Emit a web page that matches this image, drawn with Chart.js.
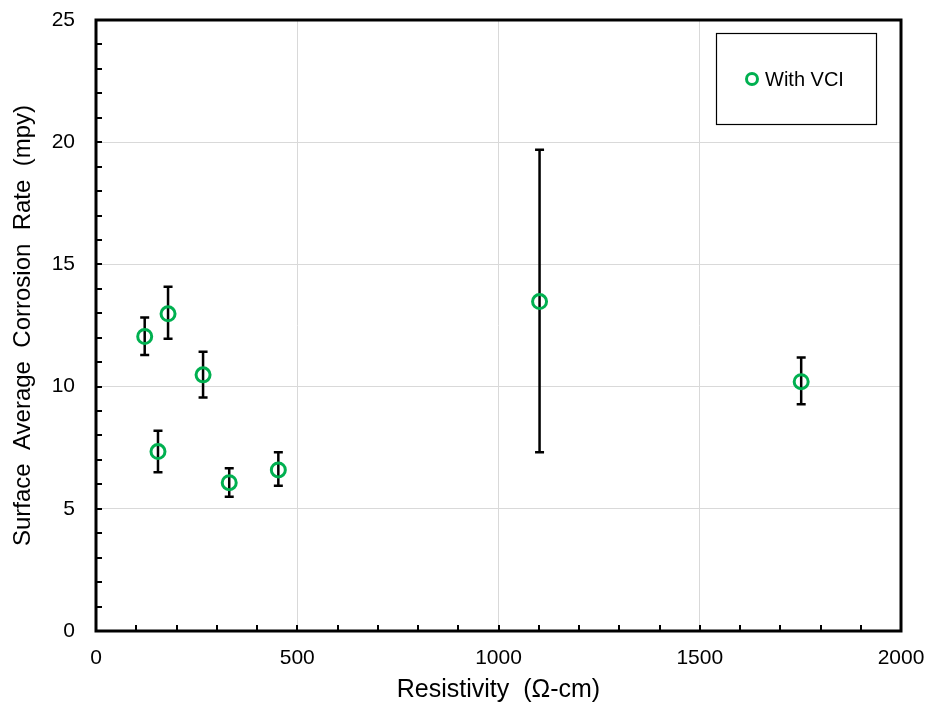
<!DOCTYPE html>
<html>
<head>
<meta charset="utf-8">
<script src="https://cdn.jsdelivr.net/npm/chart.js@4"></script>
<style>
  body { margin: 0; background: #fff; }
  #wrap { width: 928px; height: 707px; }
</style>
</head>
<body>
<div id="wrap"><canvas id="myChart" width="928" height="707"></canvas></div>
<script>
// data
var resistivity = [121, 154, 179, 266, 331, 453, 1102, 1752];
var corrosao = [12.05, 7.34, 12.98, 10.48, 6.07, 6.59, 13.48, 10.20];
var erro_cima = [12.83, 8.19, 14.09, 11.43, 6.66, 7.31, 19.69, 11.19];
var erro_baixo = [11.29, 6.50, 11.96, 9.55, 5.49, 5.94, 7.31, 9.28];
var legenda = 'With VCI';

var verde = '#00b050';
var fonte = '"Liberation Sans", Arial, sans-serif';

var pontos = resistivity.map(function (x, i) {
  return { x: x, y: corrosao[i] };
});

function sem_margem(s) {
  s.paddingTop = 0; s.paddingBottom = 0;
  s.paddingLeft = 0; s.paddingRight = 0;
}

// error bars, minor ticks, box and legend
var extras = {
  id: 'extras',
  beforeDatasetsDraw: function (chart) {
    var ctx = chart.ctx;
    var xs = chart.scales.x, ys = chart.scales.y;
    ctx.save();
    ctx.strokeStyle = '#000';
    ctx.lineWidth = 2.5;
    for (var i = 0; i < resistivity.length; i++) {
      var px = xs.getPixelForValue(resistivity[i]);
      var top = ys.getPixelForValue(erro_cima[i]);
      var bot = ys.getPixelForValue(erro_baixo[i]);
      ctx.beginPath();
      ctx.moveTo(px, top); ctx.lineTo(px, bot);
      ctx.moveTo(px - 4.5, top); ctx.lineTo(px + 4.5, top);
      ctx.moveTo(px - 4.5, bot); ctx.lineTo(px + 4.5, bot);
      ctx.stroke();
    }
    ctx.restore();
  },
  afterDraw: function (chart) {
    var ctx = chart.ctx;
    var a = chart.chartArea;
    var xs = chart.scales.x, ys = chart.scales.y;
    ctx.save();
    ctx.strokeStyle = '#000';
    ctx.lineWidth = 2;
    // inward ticks
    ctx.beginPath();
    for (var v = 0; v <= 25; v++) {
      var py = Math.round(ys.getPixelForValue(v));
      ctx.moveTo(a.left, py); ctx.lineTo(a.left + 6, py);
    }
    for (var h = 0; h <= 2000; h += 100) {
      var px = Math.round(xs.getPixelForValue(h));
      ctx.moveTo(px, a.bottom); ctx.lineTo(px, a.bottom - 6);
    }
    ctx.stroke();
    // box
    ctx.lineWidth = 3;
    ctx.strokeRect(a.left, a.top, a.right - a.left, a.bottom - a.top);

    // legend
    ctx.fillStyle = '#fff';
    ctx.fillRect(716, 33, 161, 92);
    ctx.lineWidth = 1.2;
    ctx.strokeRect(716.5, 33.5, 160, 91);
    ctx.beginPath();
    ctx.arc(752, 79, 5.5, 0, Math.PI * 2);
    ctx.strokeStyle = verde;
    ctx.lineWidth = 3;
    ctx.stroke();
    ctx.fillStyle = '#000';
    ctx.font = '20px ' + fonte;
    ctx.textBaseline = 'middle';
    ctx.fillText(legenda, 765, 80);
    ctx.restore();
  }
};

const ctx = document.getElementById('myChart');
const grafico = new Chart(ctx, {
  type: 'scatter',
  data: {
    datasets: [{
      label: legenda,
      data: pontos,
      showLine: false,
      pointStyle: 'circle',
      pointRadius: 7,
      pointBorderWidth: 3,
      pointBorderColor: verde,
      pointBackgroundColor: 'rgba(255,255,255,0)'
    }]
  },
  options: {
    responsive: false,
    animation: false,
    layout: { padding: { top: 20, right: 27, left: 0, bottom: 0 } },
    plugins: {
      legend: { display: false },
      tooltip: { enabled: false }
    },
    scales: {
      x: {
        type: 'linear',
        min: 0, max: 2000,
        ticks: {
          stepSize: 500, color: '#000', font: { family: fonte, size: 21 }, padding: 15,
          callback: function (v) { return String(v); }
        },
        grid: { color: '#d9d9d9', lineWidth: 1, drawTicks: false },
        border: { display: false },
        title: { display: true, text: 'Resistivity  (Ω-cm)', color: '#000', font: { family: fonte, size: 25 }, padding: { top: 0, bottom: 2 } },
        afterFit: function (s) { s.height = 76; sem_margem(s); }
      },
      y: {
        min: 0, max: 25,
        ticks: { stepSize: 5, color: '#000', font: { family: fonte, size: 21 }, padding: 21 },
        grid: { color: '#d9d9d9', lineWidth: 1, drawTicks: false },
        border: { display: false },
        title: { display: true, text: 'Surface  Average  Corrosion  Rate  (mpy)', color: '#000', font: { family: fonte, size: 24 }, padding: { top: 9, bottom: 0 } },
        afterFit: function (s) { s.width = 96; sem_margem(s); }
      }
    }
  },
  plugins: [extras]
});
</script>
</body>
</html>
